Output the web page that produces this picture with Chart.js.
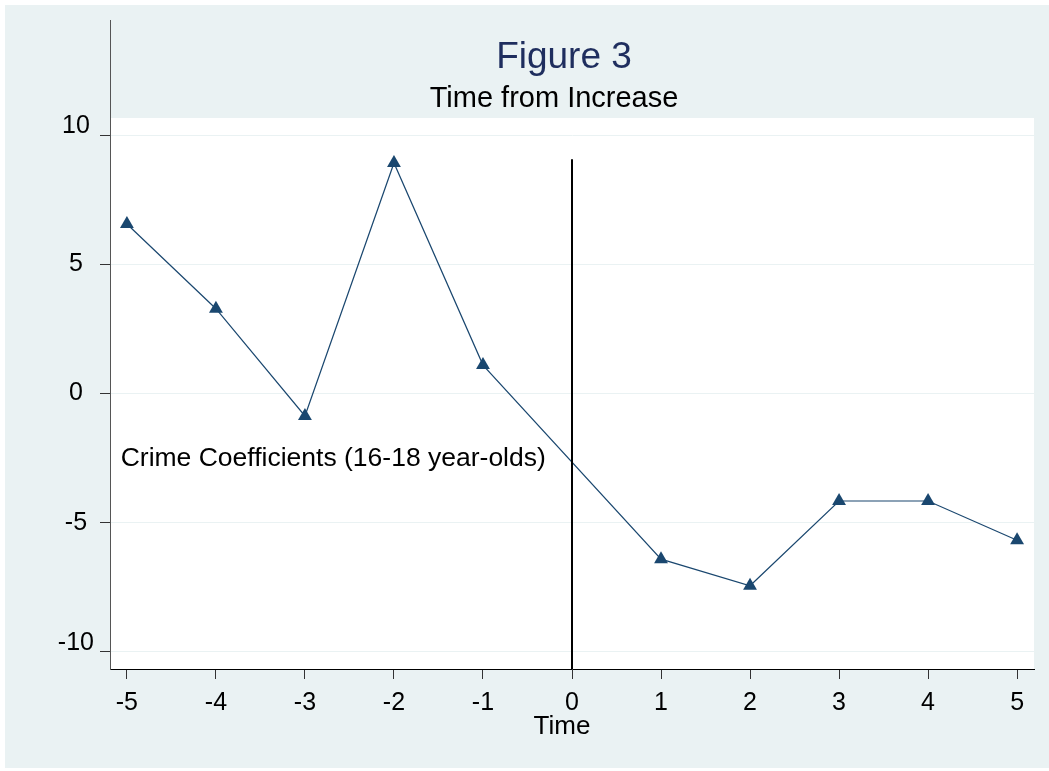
<!DOCTYPE html>
<html>
<head>
<meta charset="utf-8">
<title>Figure 3</title>
<script src="https://cdn.jsdelivr.net/npm/chart.js@4.4.1/dist/chart.umd.min.js"></script>
<style>
    html, body { margin: 0; padding: 0; background: #ffffff; }
    #wrap { width: 1049px; height: 771px; }
</style>
</head>
<body>
<div id="wrap"><canvas id="chart" width="1049" height="771"></canvas></div>
<script>
'use strict'

// time relative to the increase (no estimate at 0)
let timeValues = [-5, -4, -3, -2, -1, 1, 2, 3, 4, 5];
let crimeCoef = [6.56, 3.28, -0.87, 8.92, 1.10, -6.41, -7.44, -4.16, -4.16, -5.68];

let xTicks = [-5, -4, -3, -2, -1, 0, 1, 2, 3, 4, 5];
let yTicks = [-10, -5, 0, 5, 10];

let refLineX = [0, 0];
let refLineY = [9.06, -10.66];

let titleText = 'Figure 3';
let subtitleText = 'Time from Increase';
let xAxisTitle = 'Time';
let noteText = 'Crime Coefficients (16-18 year-olds)';
let notePos = { x: -5.07, y: -2.8 };

const FONT = '"Liberation Sans", Arial, sans-serif';
const BG = '#eaf2f3';
const NAVY = '#1a476f';

// stata style backdrop, long y axis line, titles and the text note
const stataLook = {
    id: 'stataLook',
    beforeDraw(chart) {
        const ctx = chart.ctx;
        const area = chart.chartArea;
        ctx.save();
        ctx.fillStyle = '#ffffff';
        ctx.fillRect(0, 0, chart.width, chart.height);
        ctx.fillStyle = BG;
        ctx.fillRect(5, 5, chart.width - 5, chart.height - 8);
        ctx.fillStyle = '#ffffff';
        ctx.fillRect(area.left, area.top, area.right - area.left, area.bottom - area.top);
        ctx.restore();
    },
    afterDraw(chart) {
        const ctx = chart.ctx;
        const area = chart.chartArea;
        const xs = chart.scales.x;
        const ys = chart.scales.y;
        ctx.save();
        // y axis line runs up into the title area
        ctx.strokeStyle = '#555555';
        ctx.lineWidth = 1;
        ctx.beginPath();
        ctx.moveTo(area.left + 0.5, 20);
        ctx.lineTo(area.left + 0.5, area.top);
        ctx.stroke();

        ctx.textAlign = 'center';
        ctx.textBaseline = 'alphabetic';
        ctx.fillStyle = '#1f2e5e';
        ctx.font = '37px ' + FONT;
        ctx.fillText(titleText, 564, 68);
        ctx.fillStyle = '#000000';
        ctx.font = '29px ' + FONT;
        ctx.fillText(subtitleText, 554, 107);

        ctx.textAlign = 'left';
        ctx.font = '26.5px ' + FONT;
        ctx.fillText(noteText, xs.getPixelForValue(notePos.x), ys.getPixelForValue(notePos.y));

        // axis title sits a little left of the plot centre
        ctx.textAlign = 'center';
        ctx.textBaseline = 'middle';
        ctx.font = '26px ' + FONT;
        ctx.fillText(xAxisTitle, 562, 727);
        ctx.restore();
    }
};

window.onload = function () {
    const points = timeValues.map((t, i) => ({ x: t, y: crimeCoef[i] }));
    const refLine = refLineX.map((t, i) => ({ x: t, y: refLineY[i] }));

    const config = {
        type: 'scatter',
        data: {
            datasets: [
                {
                    label: 'ref',
                    data: refLine,
                    showLine: true,
                    borderColor: '#000000',
                    borderWidth: 2,
                    pointRadius: 0
                },
                {
                    label: noteText,
                    data: points,
                    showLine: true,
                    borderColor: NAVY,
                    borderWidth: 1.2,
                    pointStyle: 'triangle',
                    pointRadius: 8,
                    pointBackgroundColor: NAVY,
                    pointBorderColor: NAVY,
                    pointBorderWidth: 0
                }
            ]
        },
        options: {
            responsive: false,
            animation: false,
            layout: { padding: { top: 118, right: 15, bottom: 0, left: 0 } },
            plugins: {
                legend: { display: false },
                tooltip: { enabled: false }
            },
            scales: {
                x: {
                    type: 'linear',
                    min: -5.19,
                    max: 5.19,
                    afterBuildTicks: scale => { scale.ticks = xTicks.map(v => ({ value: v })); },
                    afterFit: scale => { scale.height = 102; },
                    grid: { drawOnChartArea: false, tickLength: 10, tickColor: '#333333' },
                    border: { color: '#000000', width: 1 },
                    ticks: {
                        color: '#000000',
                        padding: 9,
                        maxRotation: 0,
                        font: { family: FONT, size: 25 }
                    },
                    title: { display: false, text: xAxisTitle }
                },
                y: {
                    type: 'linear',
                    min: -10.66,
                    max: 10.66,
                    afterBuildTicks: scale => { scale.ticks = yTicks.map(v => ({ value: v })); },
                    afterFit: scale => { scale.width = 110; },
                    grid: { color: BG, lineWidth: 1, tickLength: 10, tickColor: '#333333' },
                    border: { color: '#555555', width: 1 },
                    ticks: {
                        color: '#000000',
                        padding: 6,
                        crossAlign: 'center',
                        font: { family: FONT, size: 25, lineHeight: '18px' },
                        // stata nudges the end labels upward
                        callback: v => (Math.abs(v) === 10 ? [String(v), ''] : String(v))
                    }
                }
            }
        },
        plugins: [stataLook]
    };

    new Chart(document.getElementById('chart'), config);
};
</script>
</body>
</html>
